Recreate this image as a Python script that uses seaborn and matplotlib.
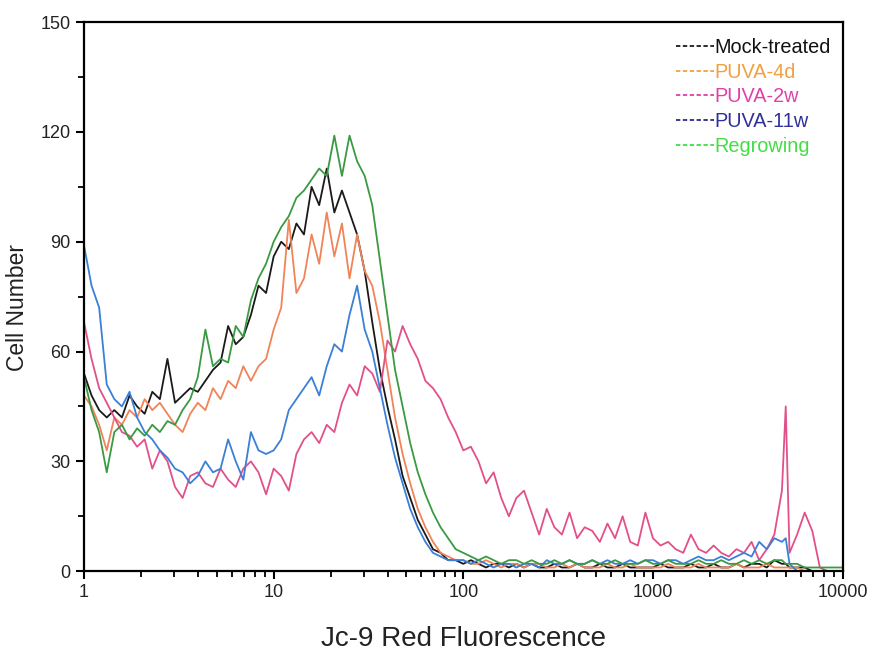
import numpy as np
import pandas as pd
import matplotlib
matplotlib.use("Agg")
import matplotlib.pyplot as plt
import seaborn as sns
from matplotlib.lines import Line2D
from matplotlib.ticker import LogLocator, NullFormatter, FixedLocator

# ---------------- data ----------------
fluorescence = [
    1.0, 1.096, 1.202, 1.318, 1.445, 1.585, 1.738, 1.905, 2.089, 2.291,
    2.512, 2.754, 3.02, 3.311, 3.631, 3.981, 4.365, 4.786, 5.248, 5.754,
    6.31, 6.918, 7.586, 8.318, 9.12,
    10.0, 10.96, 12.02, 13.18, 14.45, 15.85, 17.38, 19.05, 20.89, 22.91,
    25.12, 27.54, 30.2, 33.11, 36.31, 39.81, 43.65, 47.86, 52.48, 57.54,
    63.1, 69.18, 75.86, 83.18, 91.2,
    100, 109.6, 120.2, 131.8, 144.5, 158.5, 173.8, 190.5, 208.9, 229.1,
    251.2, 275.4, 302, 331.1, 363.1, 398.1, 436.5, 478.6, 524.8, 575.4,
    631, 691.8, 758.6, 831.8, 912,
    1000, 1096, 1202, 1318, 1445, 1585, 1738, 1905, 2089, 2291,
    2512, 2754, 3020, 3311, 3631, 3981, 4365, 4786, 5012, 5248, 5754,
    6310, 6918, 7586, 8318, 9120, 10000,
]

mock_treated = [
    54, 48, 44, 42, 44, 42, 48, 45, 43, 49, 47, 58, 46, 48, 50, 49, 52, 55, 57, 67,
    62, 64, 70, 78, 76,
    86, 90, 88, 95, 92, 105, 100, 110, 98, 104, 98, 92, 82, 68, 55, 45, 36, 26, 20, 14,
    10, 6, 5, 3, 3,
    2, 3, 2, 1, 2, 2, 1, 2, 1, 2, 1, 1, 2, 1, 1, 2, 1, 1, 2, 1, 1, 2, 1, 1, 1,
    1, 2, 1, 1, 1, 2, 1, 1, 2, 1, 1, 2, 1, 2, 2, 1, 3, 2, 2, 1, 1,
    1, 0, 0, 0, 0, 0,
]

puva_4d = [
    48, 45, 40, 33, 42, 40, 44, 42, 47, 44, 46, 43, 40, 38, 43, 46, 44, 50, 47, 52,
    50, 56, 52, 56, 58,
    66, 72, 96, 76, 80, 92, 84, 98, 86, 95, 80, 92, 82, 78, 68, 55, 42, 32, 24, 17,
    12, 8, 5, 4, 3,
    3, 2, 2, 3, 2, 1, 2, 2, 1, 2, 2, 1, 1, 2, 1, 2, 1, 1, 1, 2, 1, 1, 2, 1, 1,
    1, 1, 2, 1, 1, 1, 2, 1, 1, 1, 1, 2, 1, 1, 1, 2, 1, 1, 1, 1, 1,
    0, 0, 0, 0, 0, 0,
]

puva_2w = [
    68, 58, 50, 46, 42, 38, 37, 34, 36, 28, 33, 30, 23, 20, 26, 27, 24, 23, 28, 25,
    23, 28, 30, 27, 21,
    28, 26, 22, 32, 36, 38, 35, 40, 38, 46, 51, 48, 56, 54, 49, 63, 60, 67, 62, 58,
    52, 50, 47, 42, 38,
    33, 34, 30, 24, 27, 20, 15, 20, 22, 16, 10, 17, 12, 10, 16, 9, 12, 11, 8, 13,
    9, 15, 8, 7, 16,
    9, 7, 8, 6, 5, 10, 6, 5, 7, 5, 4, 6, 5, 8, 3, 6, 10, 22, 45, 5, 10,
    16, 11, 1, 0, 0, 0,
]

puva_11w = [
    89, 78, 72, 51, 47, 45, 49, 42, 38, 36, 33, 31, 28, 27, 24, 26, 30, 27, 28, 36,
    30, 25, 38, 33, 32,
    33, 36, 44, 47, 50, 53, 48, 56, 62, 60, 70, 78, 66, 60, 50, 40, 31, 24, 17, 12,
    8, 5, 4, 3, 3,
    3, 2, 3, 2, 1, 2, 2, 1, 2, 2, 1, 3, 2, 2, 3, 2, 2, 3, 2, 3, 2, 2, 3, 2, 3,
    3, 2, 3, 3, 2, 3, 4, 3, 3, 4, 3, 4, 5, 4, 8, 6, 9, 8, 9, 2, 0,
    0, 0, 0, 0, 0, 0,
]

regrowing = [
    53, 44, 38, 27, 38, 40, 36, 39, 37, 40, 38, 41, 40, 44, 47, 53, 66, 56, 58, 57,
    67, 64, 74, 80, 84,
    90, 94, 97, 102, 104, 107, 110, 108, 119, 108, 119, 112, 108, 100, 85, 70, 55, 45, 35, 27,
    21, 16, 12, 9, 6,
    5, 4, 3, 4, 3, 2, 3, 3, 2, 3, 2, 2, 3, 2, 3, 2, 2, 3, 2, 2, 3, 2, 2, 2, 3,
    2, 2, 3, 2, 2, 2, 3, 2, 2, 3, 2, 2, 3, 2, 3, 2, 3, 3, 2, 2, 2,
    1, 1, 1, 1, 1, 1,
]

samples = ["Mock-treated", "PUVA-4d", "PUVA-2w", "PUVA-11w", "Regrowing"]
series = [mock_treated, puva_4d, puva_2w, puva_11w, regrowing]
line_colors = ["#1a1a1a", "#f08458", "#e2508a", "#3a7fd8", "#3a9a42"]
legend_line_colors = ["#1a1a1a", "#f0a040", "#e040a8", "#2a2a8a", "#44dd44"]
legend_text_colors = ["#111111", "#f0a040", "#e040a8", "#30309a", "#44dd44"]

df = pd.concat(
    [pd.DataFrame({"Fluorescence": fluorescence, "Cells": vals, "Sample": name})
     for name, vals in zip(samples, series)],
    ignore_index=True,
)

# ---------------- plot ----------------
sns.set_theme(style="ticks")
plt.rcParams["font.family"] = ["Liberation Sans", "DejaVu Sans"]

fig = plt.figure(figsize=(8.75, 6.52), dpi=100)
ax = fig.add_axes([0.096, 0.124, 0.867, 0.842])

sns.lineplot(data=df, x="Fluorescence", y="Cells", hue="Sample",
             hue_order=samples, palette=dict(zip(samples, line_colors)),
             estimator=None, sort=False, linewidth=1.3, legend=False, ax=ax)

ax.set_xscale("log")
ax.set_xlim(1, 10000)
ax.set_ylim(0, 150)

ax.set_xticks([1, 10, 100, 1000, 10000])
ax.set_xticklabels(["1", "10", "100", "1000", "10000"])
ax.xaxis.set_minor_locator(LogLocator(base=10, subs=np.arange(2, 10)))
ax.xaxis.set_minor_formatter(NullFormatter())
ax.set_yticks([0, 30, 60, 90, 120, 150])
ax.yaxis.set_minor_locator(FixedLocator([15, 45, 75, 105, 135]))

ax.tick_params(which="major", direction="out", length=6, width=1.5,
               labelsize=13, colors="black", labelcolor="#222222")
ax.tick_params(which="minor", direction="out", length=4, width=1.3, colors="black")
for sp in ax.spines.values():
    sp.set_visible(True)
    sp.set_linewidth(1.6)
    sp.set_color("black")

ax.set_xlabel("Jc-9 Red Fluorescence", fontsize=20, color="#222222", labelpad=18)
ax.set_ylabel("Cell Number", fontsize=16.5, color="#222222", labelpad=4)
ax.yaxis.set_label_coords(-0.072, 0.48)

handles = [Line2D([], [], color=c, linestyle=(0, (2.4, 1.4)), linewidth=1.3)
           for c in legend_line_colors]
leg = ax.legend(handles, samples, loc="upper right", bbox_to_anchor=(1.0, 0.993),
                frameon=False, fontsize=14.3, handlelength=1.95, handletextpad=0.0,
                labelspacing=0.29, borderaxespad=0.2)
for t, c in zip(leg.get_texts(), legend_text_colors):
    t.set_color(c)

fig.savefig("out.png", dpi=100)
